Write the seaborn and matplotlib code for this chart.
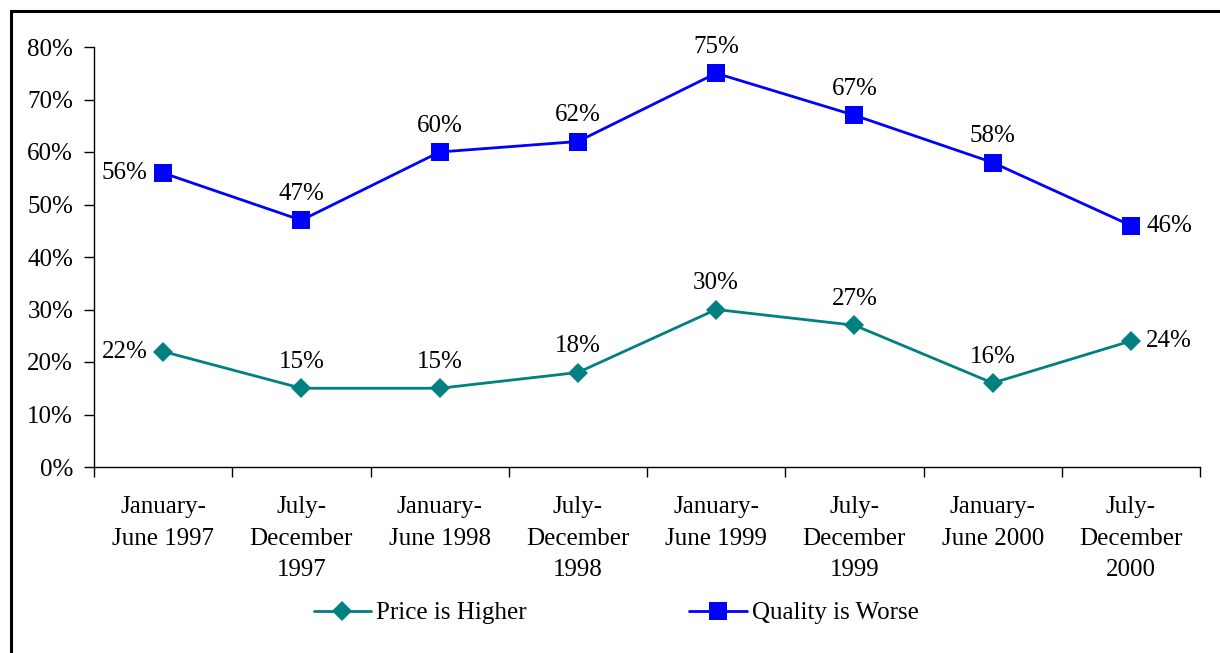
import matplotlib
matplotlib.use("Agg")
import matplotlib.pyplot as plt
import numpy as np
import pandas as pd
import seaborn as sns
from matplotlib.patches import Rectangle

periods = [
    "January-\nJune 1997", "July-\nDecember\n1997", "January-\nJune 1998",
    "July-\nDecember\n1998", "January-\nJune 1999", "July-\nDecember\n1999",
    "January-\nJune 2000", "July-\nDecember\n2000",
]
price_higher = [22, 15, 15, 18, 30, 27, 16, 24]
quality_worse = [56, 47, 60, 62, 75, 67, 58, 46]
series_names = ["Price is Higher", "Quality is Worse"]
y_ticks = [0, 10, 20, 30, 40, 50, 60, 70, 80]

sns.set_theme(style="white")
plt.rcParams["font.family"] = ["Liberation Serif", "DejaVu Serif"]
plt.rcParams["text.color"] = "black"
plt.rcParams["xtick.color"] = "black"
plt.rcParams["ytick.color"] = "black"

df = pd.DataFrame({
    "idx": list(range(len(periods))) * 2,
    "value": price_higher + quality_worse,
    "series": [series_names[0]] * len(periods) + [series_names[1]] * len(periods),
})

fig = plt.figure(figsize=(12.2, 6.53), dpi=100)
ax = fig.add_axes([94 / 1220, 1 - 467 / 653, (1200 - 94) / 1220, (467 - 47) / 653])

palette = {series_names[0]: "#008080", series_names[1]: "#0000FF"}
sns.lineplot(
    data=df, x="idx", y="value", hue="series", style="series",
    markers={series_names[0]: "D", series_names[1]: "s"}, dashes=False,
    palette=palette, linewidth=2, markersize=10.5, markeredgewidth=0,
    ax=ax, legend=True,
)
# square marker a touch bigger, like the original
for line in ax.get_lines():
    if line.get_marker() == "s":
        line.set_markersize(12.5)

n = len(periods)
fs = 18
for i, (p, q) in enumerate(zip(price_higher, quality_worse)):
    for v in (p, q):
        if i == 0:
            ax.annotate(f"{v}%", (i, v), xytext=(-11, 0), textcoords="offset points",
                        ha="right", va="center", fontsize=fs)
        elif i == n - 1:
            ax.annotate(f"{v}%", (i, v), xytext=(11, 0), textcoords="offset points",
                        ha="left", va="center", fontsize=fs)
        else:
            ax.annotate(f"{v}%", (i, v), xytext=(0, 11), textcoords="offset points",
                        ha="center", va="bottom", fontsize=fs)

ax.set_xlim(-0.5, n - 0.5)
ax.set_ylim(0, 80)
ax.set_yticks(y_ticks)
ax.set_yticklabels([f"{t}%" for t in y_ticks], fontsize=fs)
ax.set_xticks(np.arange(-0.5, n, 1.0))
ax.set_xticklabels([])
ax.set_xticks(np.arange(n), minor=True)
ax.set_xticklabels(periods, minor=True, fontsize=fs, linespacing=1.55)
ax.tick_params(axis="x", which="minor", length=0, pad=21)
ax.tick_params(axis="x", which="major", direction="out", length=7, width=1, color="black", bottom=True)
ax.tick_params(axis="y", direction="out", length=7, width=1, color="black", left=True, pad=8)
ax.set_xlabel("")
ax.set_ylabel("")
for side in ("top", "right"):
    ax.spines[side].set_visible(False)
for side in ("left", "bottom"):
    ax.spines[side].set_color("black")
    ax.spines[side].set_linewidth(1)

handles, labels = ax.get_legend_handles_labels()
ax.legend(handles, labels, loc="center", bbox_to_anchor=(616 / 1220, 1 - 613 / 653),
          bbox_transform=fig.transFigure, ncol=2, frameon=False, fontsize=fs,
          columnspacing=6.5, handlelength=2.3, handletextpad=0.2)

fig.patches.append(Rectangle((11 / 1220, -0.1), 1.2, 1 - 11 / 653 + 0.1,
                             transform=fig.transFigure, fill=False,
                             edgecolor="black", linewidth=2.2))

fig.savefig("out.png", dpi=100)
